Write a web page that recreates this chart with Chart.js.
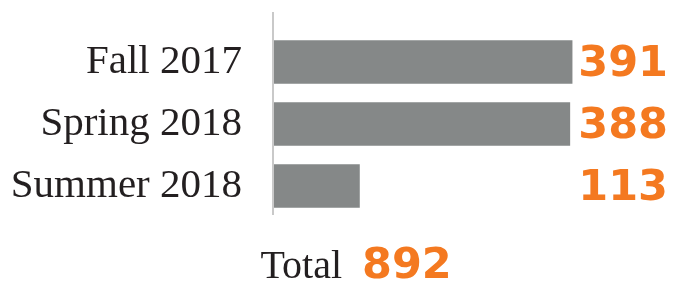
<!DOCTYPE html>
<html>
<head>
<meta charset="utf-8">
<script src="https://cdn.jsdelivr.net/npm/chart.js@4"></script>
<style>
html,body{margin:0;padding:0;background:#fff;}
#wrap{width:676px;height:284px;position:relative;}
</style>
</head>
<body>
<div id="wrap"><canvas id="grafico"></canvas></div>
<script>
// data
let semestri=["Fall 2017","Spring 2018","Summer 2018"];
let iscritti=[391,388,113];

let totale=iscritti.reduce((a,b)=>a+b,0);

let arancio="#f47920";
let serif="'Liberation Serif', 'DejaVu Serif', serif";
let sans="'DejaVu Sans', sans-serif";

// axis line, value labels and total
let etichette={
id:"etichette",
afterDraw(chart){
let ctx=chart.ctx;
let area=chart.chartArea;
let x0=chart.scales.x.getPixelForValue(0);
ctx.save();
ctx.strokeStyle="#c9c9c9";
ctx.lineWidth=2;
ctx.beginPath();
ctx.moveTo(x0,12);
ctx.lineTo(x0,area.bottom-2);
ctx.stroke();

ctx.fillStyle=arancio;
ctx.font="bold 43px "+sans;
ctx.textAlign="right";
ctx.textBaseline="middle";
chart.getDatasetMeta(0).data.forEach((bar,i)=>{
ctx.fillText(String(iscritti[i]),668,bar.y+3);
});

ctx.textBaseline="alphabetic";
ctx.fillStyle="#231f20";
ctx.font="40px "+serif;
ctx.textAlign="right";
ctx.fillText("Total",342,278);
ctx.fillStyle=arancio;
ctx.font="bold 43px "+sans;
ctx.textAlign="left";
ctx.fillText(String(totale),362,278);
ctx.restore();
}
};

new Chart(
document.getElementById("grafico"),
{
type:"bar",
data:{
labels:semestri,
datasets:[{
data:iscritti,
backgroundColor:"#858888",
barThickness:43
}]
},
options:{
indexAxis:"y",
responsive:true,
maintainAspectRatio:false,
animation:false,
layout:{padding:{top:31,bottom:67,right:97,left:0}},
plugins:{legend:{display:false},tooltip:{enabled:false}},
scales:{
x:{display:false,min:0,max:400},
y:{
afterFit(s){s.width=273;s.paddingTop=0;s.paddingBottom=0;},
grid:{display:false,drawTicks:false},
border:{display:false},
ticks:{
padding:31,
color:"#231f20",
font:{family:serif,size:41}
}
}
}
},
plugins:[etichette]
}
);
</script>
</body>
</html>
